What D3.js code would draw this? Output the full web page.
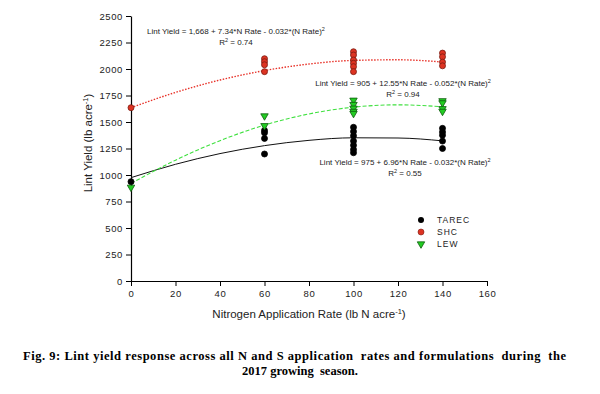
<!DOCTYPE html>
<html>
<head>
<meta charset="utf-8">
<script src="https://cdn.jsdelivr.net/npm/d3@7"></script>
<style>
  body { margin: 0; background: #fff; }
  svg { display: block; font-family: "Liberation Sans", Arial, sans-serif; }
</style>
</head>
<body>
<svg id="chart"></svg>
<script>
// observed yields (lb/acre) at each N rate
var tarecX = [0, 60, 60, 60, 60, 100, 100, 100, 100, 100, 100, 100, 140, 140, 140, 140, 140];
var tarecY = [937, 1420, 1398, 1345, 1198, 1450, 1410, 1370, 1320, 1280, 1240, 1210, 1440, 1405, 1375, 1320, 1250];
var shcX = [0, 60, 60, 60, 60, 100, 100, 100, 100, 100, 100, 140, 140, 140, 140];
var shcY = [1635, 2097, 2069, 2040, 1975, 2163, 2132, 2085, 2054, 2022, 1975, 2150, 2115, 2065, 2030];
var lewX = [0, 60, 60, 100, 100, 100, 100, 100, 140, 140, 140, 140];
var lewY = [884, 1557, 1465, 1705, 1665, 1630, 1600, 1580, 1700, 1680, 1625, 1600];

// fitted curves
var fitX = [0, 20, 40, 60, 80, 100, 120, 140];
var tarecFit = [975, 1101, 1202, 1277, 1327, 1351, 1349, 1322];
var shcFit = [1635, 1779, 1896, 1985, 2047, 2081, 2087, 2066];
var lewFit = [920, 1140, 1324, 1471, 1576, 1640, 1662, 1643];

var xTicks = [0, 20, 40, 60, 80, 100, 120, 140, 160];
var yTicks = [0, 250, 500, 750, 1000, 1250, 1500, 1750, 2000, 2250, 2500];
var seriesNames = ["TAREC", "SHC", "LEW"];

var W = 600, H = 394;
var svg = d3.select("#chart").attr("width", W).attr("height", H);

var x = d3.scaleLinear().domain([0, 160]).range([131, 487]);
var y = d3.scaleLinear().domain([0, 2500]).range([281, 16]);

var xAxis = svg.append("g")
  .attr("transform", "translate(0,281)")
  .call(d3.axisBottom(x).tickValues(xTicks).tickFormat(d3.format("d")).tickSize(5).tickSizeOuter(0).tickPadding(4));
var yAxis = svg.append("g")
  .attr("transform", "translate(131,0)")
  .call(d3.axisLeft(y).tickValues(yTicks).tickFormat(d3.format("d")).tickSize(5).tickSizeOuter(0).tickPadding(3));

[xAxis, yAxis].forEach(function(g){
  g.select(".domain").attr("stroke", "#000").attr("stroke-width", 1.2);
  g.selectAll(".tick line").attr("stroke", "#000");
  g.selectAll(".tick text")
    .attr("fill", "#222")
    .style("font-size", "9.5px")
    .style("letter-spacing", "0.6px")
    .style("font-family", "Liberation Sans, Arial, sans-serif");
});

// axis titles
var xt = svg.append("text")
  .attr("x", 309).attr("y", 318)
  .attr("text-anchor", "middle")
  .style("font-size", "11.5px").attr("fill", "#222")
  .text("Nitrogen Application Rate (lb N acre");
xt.append("tspan").attr("dy", -4).style("font-size", "7.5px").text("-1");
xt.append("tspan").attr("dy", 4).text(")");

var yt = svg.append("text")
  .attr("transform", "translate(92,143) rotate(-90)")
  .attr("text-anchor", "middle")
  .style("font-size", "11.5px").attr("fill", "#222")
  .text("Lint Yield (lb acre");
yt.append("tspan").attr("dy", -4).style("font-size", "7.5px").text("-1");
yt.append("tspan").attr("dy", 4).text(")");

// fit lines
var line = d3.line().curve(d3.curveMonotoneX);
function fitLine(vals, color, dash, width){
  svg.append("path")
    .attr("d", line(fitX.map(function(d, i){ return [x(d), y(vals[i])]; })))
    .attr("fill", "none")
    .attr("stroke", color)
    .attr("stroke-width", width)
    .attr("stroke-dasharray", dash);
}
fitLine(tarecFit, "#111", null, 1);
fitLine(shcFit, "#e8332a", "1.5,1.5", 1.4);
fitLine(lewFit, "#3ee03e", "4,2", 1.1);

// points
var tri = d3.symbol().type(d3.symbolTriangle).size(24);
function dots(xs, ys, fill, stroke){
  svg.append("g").selectAll("circle")
    .data(xs)
    .enter().append("circle")
      .attr("cx", function(d){ return x(d); })
      .attr("cy", function(d, i){ return y(ys[i]); })
      .attr("r", 3)
      .attr("fill", fill)
      .attr("stroke", stroke)
      .attr("stroke-width", 0.8);
}
dots(tarecX, tarecY, "#000", "#000");
dots(shcX, shcY, "#dd3322", "#7a1a10");
svg.append("g").selectAll("path")
  .data(lewX)
  .enter().append("path")
    .attr("d", tri)
    .attr("transform", function(d, i){ return "translate(" + x(d) + "," + y(lewY[i]) + ") rotate(180)"; })
    .attr("fill", "#22cc22")
    .attr("stroke", "#0d5a0d")
    .attr("stroke-width", 0.8);

// equations
function equation(cx, cy, txt, r2){
  var t = svg.append("text")
    .attr("x", cx).attr("y", cy)
    .attr("text-anchor", "middle")
    .style("font-size", "8px").attr("fill", "#222")
    .text(txt);
  t.append("tspan").attr("dy", -3).style("font-size", "5.5px").text("2");
  var r = svg.append("text")
    .attr("x", cx).attr("y", cy + 11)
    .attr("text-anchor", "middle")
    .style("font-size", "8px").attr("fill", "#222")
    .text("R");
  r.append("tspan").attr("dy", -3).style("font-size", "5.5px").text("2");
  r.append("tspan").attr("dy", 3).text(" = " + r2);
}
equation(236, 34, "Lint Yield = 1,668 + 7.34*N Rate - 0.032*(N Rate)", "0.74");
equation(403, 86, "Lint Yield = 905 + 12.55*N Rate - 0.052*(N Rate)", "0.94");
equation(405, 165, "Lint Yield = 975 + 6.96*N Rate - 0.032*(N Rate)", "0.55");

// legend
var legY = [220, 232, 244];
var leg = svg.append("g");
leg.append("circle").attr("cx", 421).attr("cy", legY[0]).attr("r", 3).attr("fill", "#000");
leg.append("circle").attr("cx", 421).attr("cy", legY[1]).attr("r", 3).attr("fill", "#dd3322").attr("stroke", "#7a1a10").attr("stroke-width", 0.6);
leg.append("path").attr("d", tri).attr("transform", "translate(421," + legY[2] + ") rotate(180)")
  .attr("fill", "#22cc22").attr("stroke", "#0d5a0d").attr("stroke-width", 0.8);
seriesNames.forEach(function(n, i){
  leg.append("text")
    .attr("x", 437).attr("y", legY[i] + 3)
    .style("font-size", "8.5px").style("letter-spacing", "1px").attr("fill", "#222")
    .text(n);
});

// caption
var cap = ["Fig. 9: Lint yield response across all N and S application  rates and formulations  during  the",
           "2017 growing  season."];
svg.append("text")
  .attr("x", 23).attr("y", 360)
  .attr("textLength", 543).attr("lengthAdjust", "spacing")
  .style("font-family", "Liberation Serif, Times New Roman, serif")
  .style("font-weight", "bold").style("font-size", "12.5px")
  .style("white-space", "pre")
  .text(cap[0]);
svg.append("text")
  .attr("x", 300).attr("y", 375)
  .attr("text-anchor", "middle")
  .style("font-family", "Liberation Serif, Times New Roman, serif")
  .style("font-weight", "bold").style("font-size", "12.5px")
  .style("white-space", "pre")
  .text(cap[1]);
</script>
</body>
</html>
